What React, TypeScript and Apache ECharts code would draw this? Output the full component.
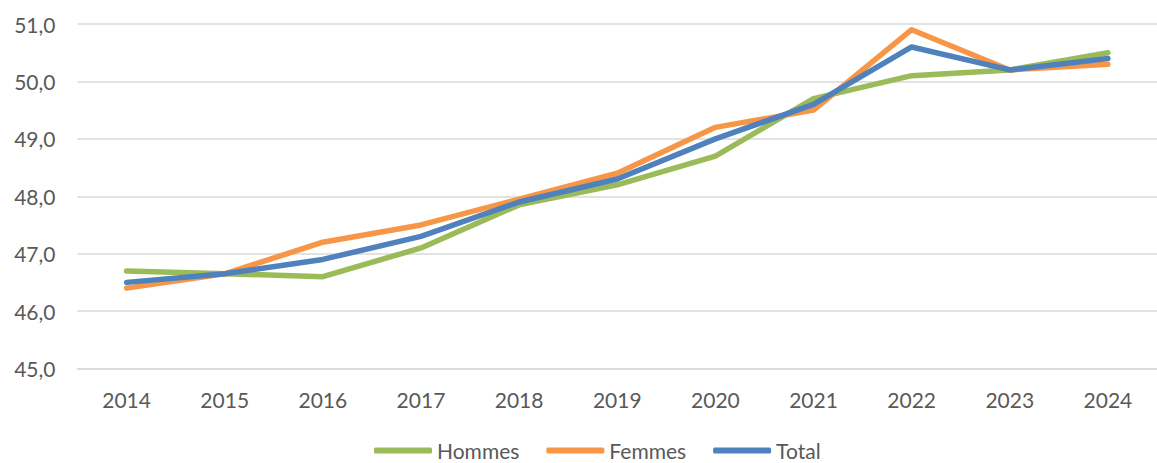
import React, { useEffect, useRef } from "react";
import * as echarts from "echarts";

const years = ["2014", "2015", "2016", "2017", "2018", "2019", "2020", "2021", "2022", "2023", "2024"];
const hommes = [46.7, 46.65, 46.6, 47.1, 47.85, 48.2, 48.7, 49.7, 50.1, 50.2, 50.5];
const femmes = [46.4, 46.65, 47.2, 47.5, 47.95, 48.4, 49.2, 49.5, 50.9, 50.2, 50.3];
const total = [46.5, 46.65, 46.9, 47.3, 47.9, 48.3, 49.0, 49.6, 50.6, 50.2, 50.4];
const yMin = 45;
const yMax = 51;
const yStep = 1;

const FONT = "Lato, 'Noto Sans', sans-serif";
const TEXT = "#595959";

export default function App() {
  const ref = useRef<HTMLDivElement>(null);
  useEffect(() => {
    if (!ref.current) return;
    const chart = echarts.init(ref.current, null, { renderer: "svg" });
    const mk = (name: string, data: number[], color: string) => ({
      name,
      type: "line",
      data,
      symbol: "none",
      lineStyle: { color, width: 5.5, cap: "round", join: "round" },
      itemStyle: { color },
    });
    chart.setOption({
      animation: false,
      backgroundColor: "#ffffff",
      grid: { left: 77.5, right: -8.5, top: 24, bottom: 94.5, containLabel: false },
      xAxis: {
        type: "category",
        data: years,
        boundaryGap: true,
        axisLine: { show: true, lineStyle: { color: "#D9D9D9", width: 1.5 } },
        axisTick: { show: false },
        axisLabel: { color: TEXT, fontFamily: FONT, fontSize: 21, margin: 20 },
      },
      yAxis: {
        type: "value",
        min: yMin,
        max: yMax,
        interval: yStep,
        axisLine: { show: false },
        axisTick: { show: false },
        splitLine: { lineStyle: { color: "#D9D9D9", width: 1.5 } },
        axisLabel: {
          color: TEXT,
          fontFamily: FONT,
          fontSize: 21,
          margin: 22,
          formatter: (v: number) => v.toFixed(1).replace(".", ","),
        },
      },
      legend: {
        top: 440,
        left: 374,
        padding: 0,
        icon: "roundRect",
        itemWidth: 58,
        itemHeight: 6,
        itemGap: 27,
        textStyle: { color: TEXT, fontFamily: FONT, fontSize: 21, lineHeight: 20 },
        data: ["Hommes", "Femmes", "Total"],
      },
      series: [
        mk("Hommes", hommes, "#9BBB59"),
        mk("Femmes", femmes, "#F79646"),
        mk("Total", total, "#4F81BD"),
      ],
    });
    return () => chart.dispose();
  }, []);
  return (
    <div
      ref={ref}
      style={{ position: "fixed", left: 0, top: 0, width: 1157, height: 463 }}
    />
  );
}
